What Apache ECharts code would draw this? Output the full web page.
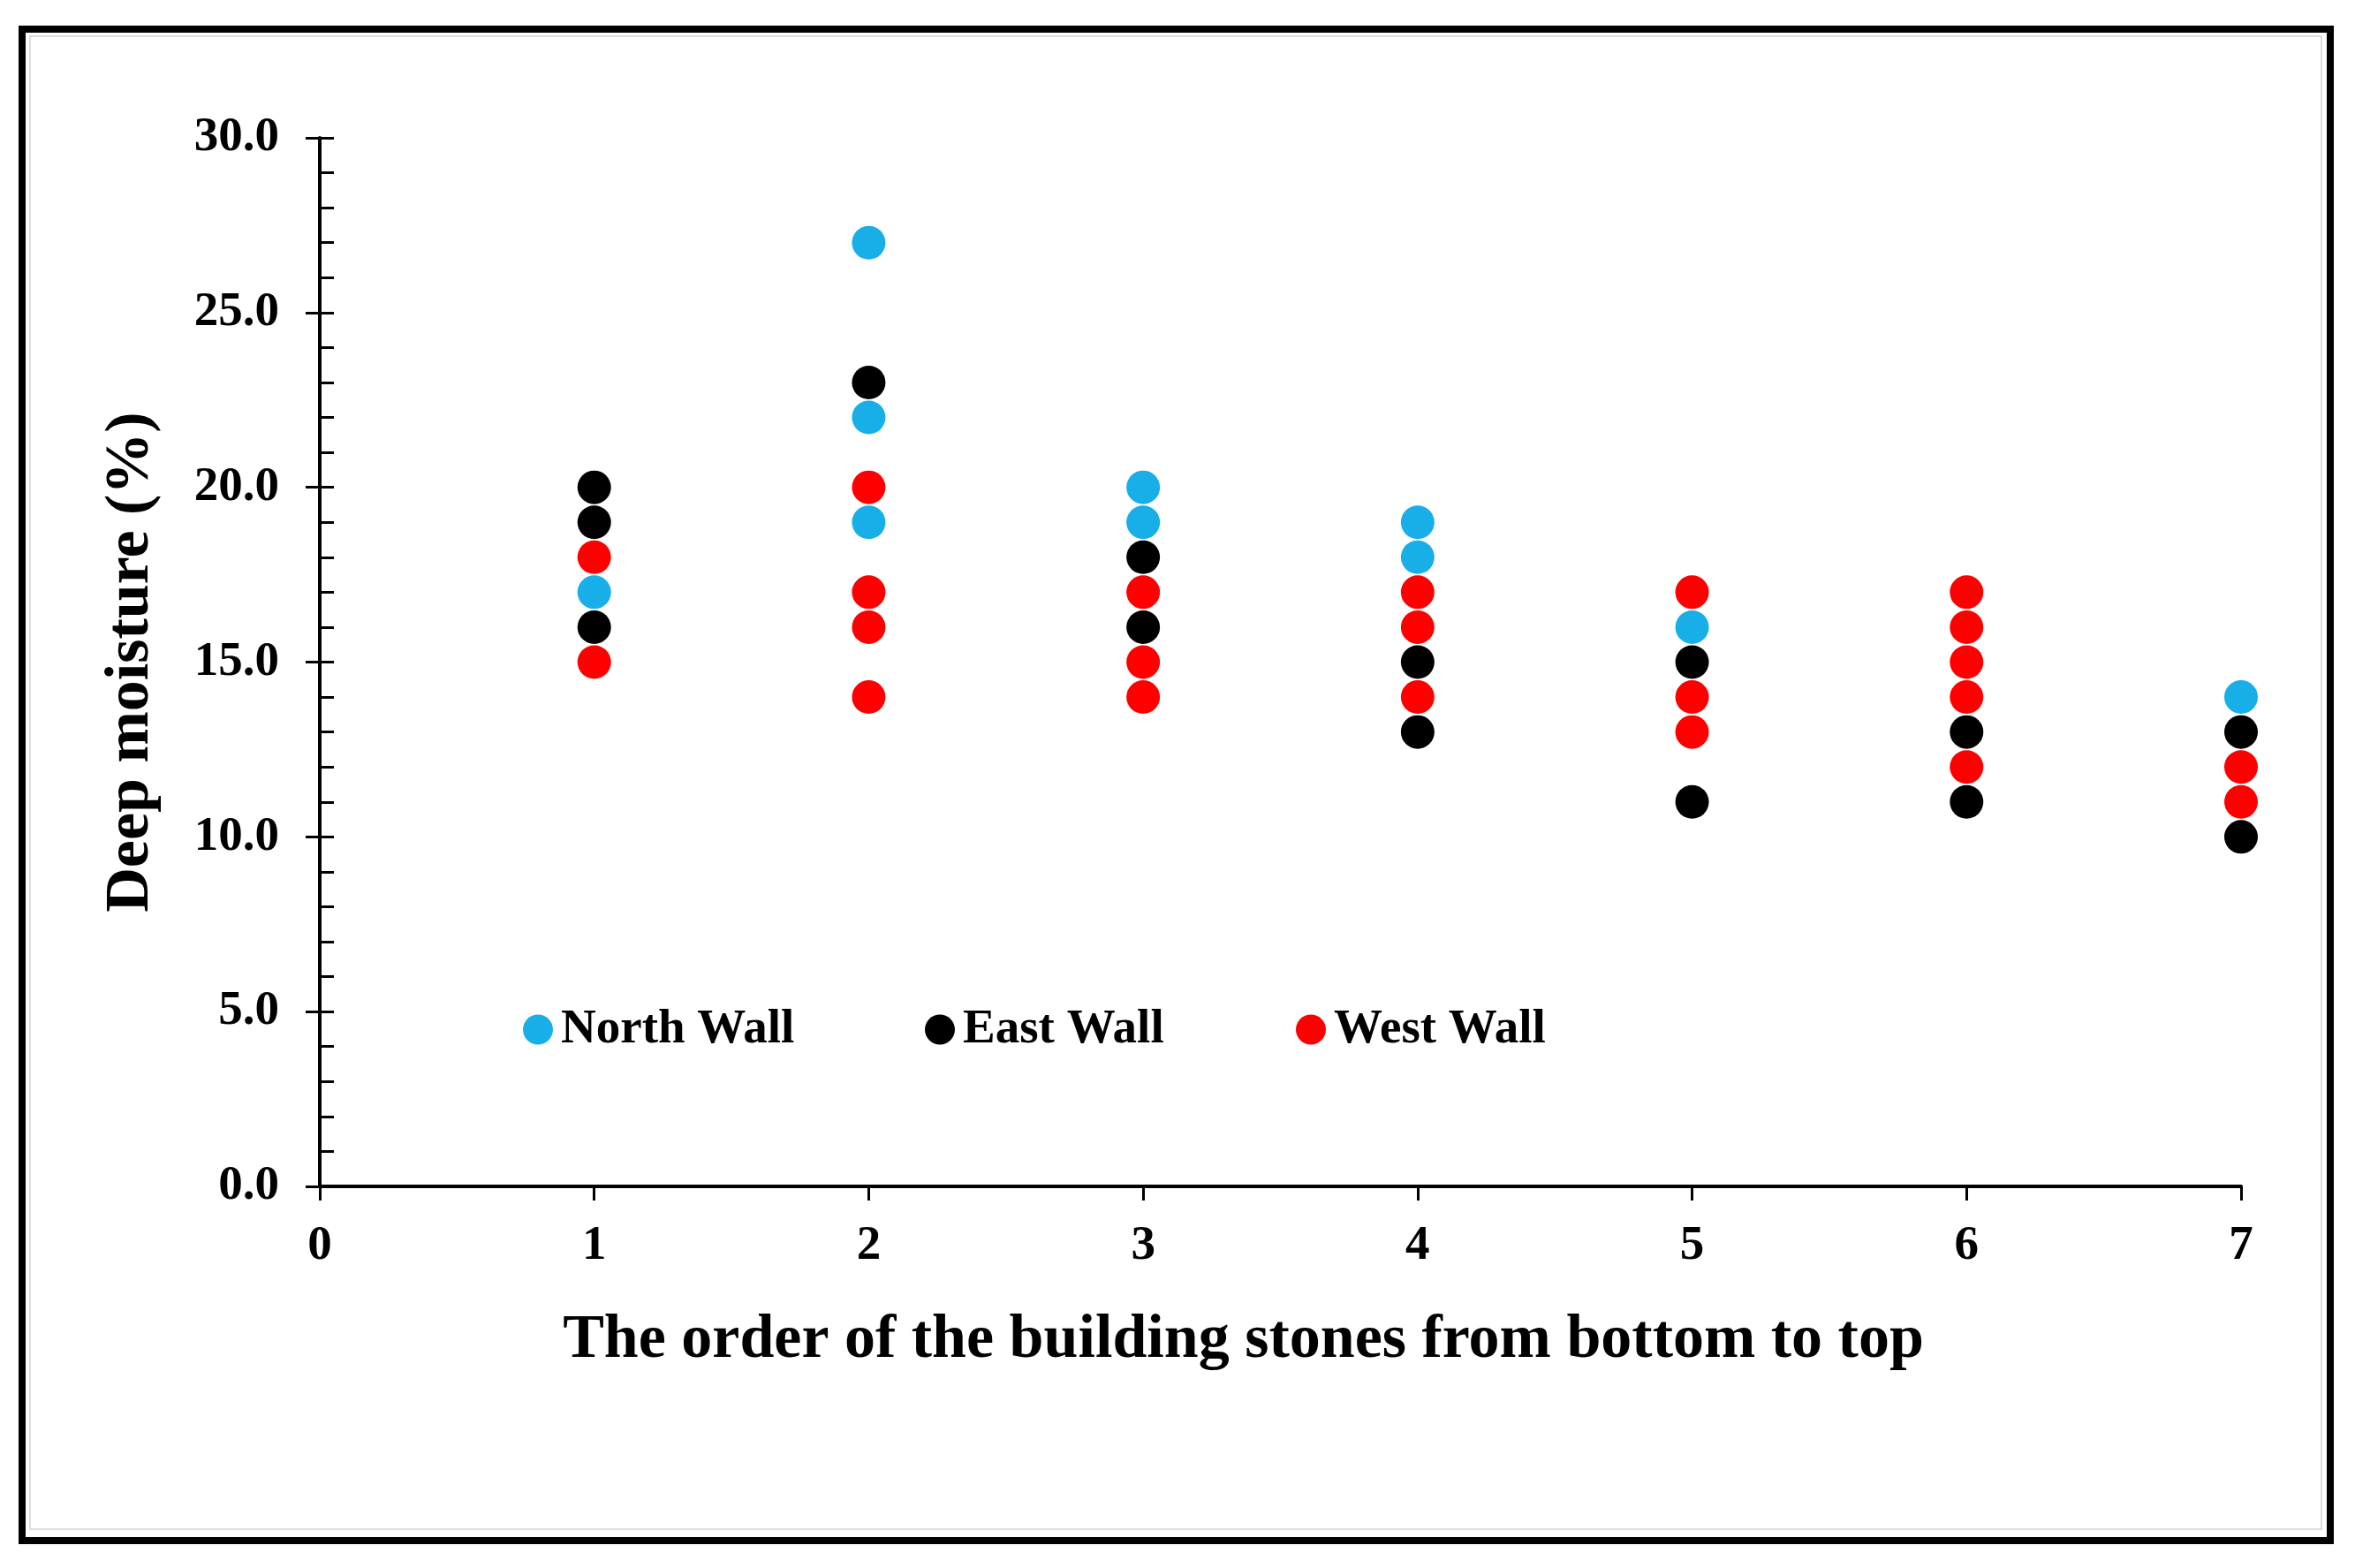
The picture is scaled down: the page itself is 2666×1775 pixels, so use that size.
<!DOCTYPE html>
<html>
<head>
<meta charset="utf-8">
<script src="https://cdn.jsdelivr.net/npm/echarts@6/dist/echarts.min.js"></script>
<style>
html,body{margin:0;padding:0;background:#fff;}
#chart{width:2666px;height:1775px;}
</style>
</head>
<body>
<div id="chart"></div>
<script>
// Data (stone order, deep moisture %)
const seriesNames = ['North Wall', 'East Wall', 'West Wall'];
const northWall = [[1,17],[2,27],[2,22],[2,19],[3,20],[3,19],[4,19],[4,18],[5,16],[7,14]];
const eastWall  = [[1,20],[1,19],[1,16],[2,23],[3,18],[3,16],[4,15],[4,13],[5,15],[5,11],[6,13],[6,11],[7,13],[7,10]];
const westWall  = [[1,18],[1,15],[2,20],[2,17],[2,16],[2,14],[3,17],[3,15],[3,14],[4,17],[4,16],[4,14],[5,17],[5,14],[5,13],[6,17],[6,16],[6,15],[6,14],[6,12],[7,12],[7,11]];
const xTicks = [0,1,2,3,4,5,6,7];
const yTicks = [0,5,10,15,20,25,30];
const colors = ['#18AEE8', '#000000', '#FF0000'];

const FONT = '"Liberation Serif", "Times New Roman", serif';
const chart = echarts.init(document.getElementById('chart'), null, {renderer:'canvas'});

const legendLefts = [587, 1042, 1462];
const option = {
  backgroundColor: '#ffffff',
  animation: false,
  graphic: [
    {type:'rect', shape:{x:25, y:33, width:2613, height:1711}, style:{fill:'none', stroke:'#000', lineWidth:8}, z:-1},
    {type:'rect', shape:{x:34, y:41, width:2594, height:1690}, style:{fill:'none', stroke:'#dedede', lineWidth:2}, z:-1}
  ],
  legend: seriesNames.map((n, i) => ({
    data: [n],
    left: legendLefts[i],
    top: 1133,
    icon: 'circle',
    itemWidth: 34,
    itemHeight: 34,
    itemGap: 0,
    selectedMode: false,
    itemStyle: {opacity: 1},
    textStyle: {fontFamily: FONT, fontWeight: 'bold', fontSize: 55, color: '#000', padding:[0,0,0,4]}
  })),
  grid: {left: 362, right: 129, top: 156, bottom: 432, containLabel: false},
  xAxis: {
    type: 'value',
    min: xTicks[0], max: xTicks[xTicks.length-1], interval: 1,
    name: 'The order of the building stones from bottom to top',
    nameLocation: 'middle',
    nameGap: 140,
    nameTextStyle: {fontFamily: FONT, fontWeight: 'bold', fontSize: 70, color: '#000', padding:[0,84,0,0]},
    axisLine: {show:true, onZero:false, lineStyle:{color:'#000', width:4}},
    axisTick: {show:true, inside:false, length:16, lineStyle:{color:'#000', width:3}},
    axisLabel: {fontFamily: FONT, fontWeight:'bold', fontSize:55, color:'#000', margin:40},
    splitLine: {show:false}
  },
  yAxis: [
    {
      type: 'value',
      min: yTicks[0], max: yTicks[yTicks.length-1], interval: 5,
      name: 'Deep moisture (%)',
      nameLocation: 'middle',
      nameGap: 178,
      nameTextStyle: {fontFamily: FONT, fontWeight: 'bold', fontSize: 70, color: '#000'},
      axisLine: {show:true, onZero:false, lineStyle:{color:'#000', width:4}},
      axisTick: {show:true, inside:false, length:16, lineStyle:{color:'#000', width:3}},
      axisLabel: {fontFamily: FONT, fontWeight:'bold', fontSize:55, color:'#000', margin:46,
                  formatter: v => v.toFixed(1)},
      splitLine: {show:false}
    },
    {
      type: 'value',
      position: 'left',
      min: yTicks[0], max: yTicks[yTicks.length-1], interval: 5,
      axisLine: {show:false, onZero:false},
      axisTick: {show:true, inside:true, length:16, lineStyle:{color:'#000', width:3}},
      minorTick: {show:true, splitNumber:5, length:16, lineStyle:{color:'#000', width:3}},
      axisLabel: {show:false},
      splitLine: {show:false}
    }
  ],
  series: [
    {name: seriesNames[0], type:'scatter', data: northWall, symbolSize:38, itemStyle:{color:colors[0], opacity:1}, z:2},
    {name: seriesNames[1], type:'scatter', data: eastWall, symbolSize:38, itemStyle:{color:colors[1], opacity:1}, z:3},
    {name: seriesNames[2], type:'scatter', data: westWall, symbolSize:38, itemStyle:{color:colors[2], opacity:1}, z:4}
  ]
};
chart.setOption(option);
</script>
</body>
</html>
